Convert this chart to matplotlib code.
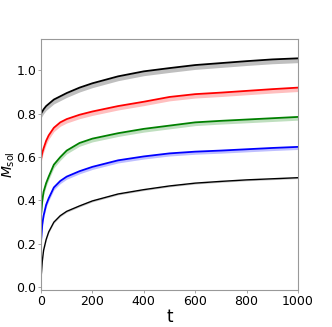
import numpy as np
import matplotlib
matplotlib.use('Agg')
import matplotlib.pyplot as plt

# sample times and curve values
t = [0, 5, 10, 20, 30, 50, 75, 100, 150, 200, 300, 400, 500, 600, 700, 800, 900, 1000]
m_top = [0.80, 0.81, 0.82, 0.835, 0.845, 0.865, 0.88, 0.895, 0.92, 0.94, 0.972, 0.995, 1.01, 1.024, 1.033, 1.042, 1.05, 1.055]
m_red = [0.59, 0.62, 0.64, 0.675, 0.70, 0.735, 0.76, 0.775, 0.795, 0.81, 0.835, 0.855, 0.877, 0.89, 0.897, 0.905, 0.913, 0.92]
m_green = [0.33, 0.40, 0.44, 0.48, 0.51, 0.565, 0.60, 0.63, 0.665, 0.685, 0.71, 0.73, 0.745, 0.76, 0.767, 0.773, 0.779, 0.785]
m_blue = [0.21, 0.29, 0.33, 0.38, 0.41, 0.46, 0.49, 0.51, 0.535, 0.555, 0.585, 0.603, 0.617, 0.625, 0.63, 0.636, 0.642, 0.647]
m_bottom = [0.04, 0.12, 0.17, 0.22, 0.255, 0.30, 0.33, 0.35, 0.375, 0.398, 0.43, 0.45, 0.467, 0.48, 0.488, 0.495, 0.50, 0.505]

# depth of the downward noise spikes, read per curve
dips = [0.02, 0.018, 0.015, 0.012, 0.004]

curves = [m_top, m_red, m_green, m_blue, m_bottom]
colors = ['black', 'red', 'green', 'blue', 'black']
widths = [1.3, 1.3, 1.3, 1.3, 1.0]

fig = plt.figure(figsize=(3.32, 3.27), dpi=100)
ax = fig.add_axes([0.1235, 0.1131, 0.7741, 0.7676])

for y, c, d, w in zip(curves, colors, dips, widths):
    y = np.array(y)
    ax.fill_between(t, y - d, y, color=c, alpha=0.25, linewidth=0)
    ax.plot(t, y, color=c, lw=w)

ax.set_xlim(0, 1000)
ax.set_ylim(-0.0125, 1.144)
ax.set_xticks([0, 200, 400, 600, 800, 1000])
ax.set_yticks([0.0, 0.2, 0.4, 0.6, 0.8, 1.0])
ax.tick_params(labelsize=9, length=2, width=0.6, color='#999999', pad=1.5)
for s in ax.spines.values():
    s.set_color('#999999')
ax.set_xlabel('t', fontsize=12, labelpad=0)
ax.set_ylabel(r'$M_{\rm sol}$', fontsize=10)
ax.yaxis.set_label_coords(-0.094, 0.5)

fig.savefig('out.png', dpi=100)
